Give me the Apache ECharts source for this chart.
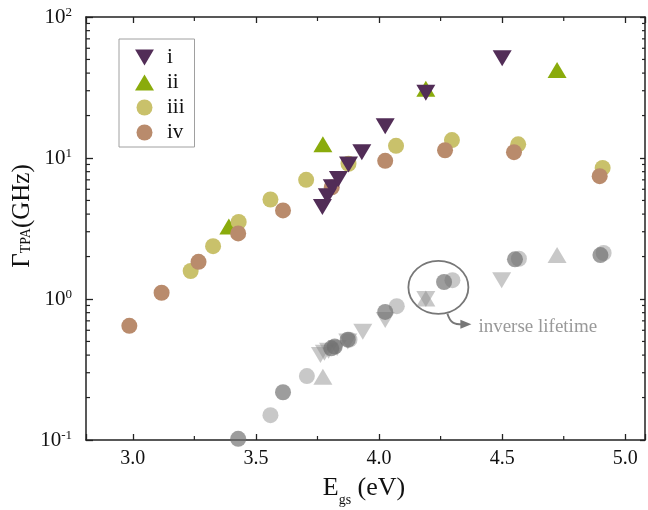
<!DOCTYPE html>
<html>
<head>
<meta charset="utf-8">
<script src="https://cdn.jsdelivr.net/npm/echarts@6/dist/echarts.min.js"></script>
<style>
html,body{margin:0;padding:0;background:#fff;}
#chart{width:648px;height:510px;}
</style>
</head>
<body>
<div id="chart"></div>
<script>
// ---------- data ----------
const seriesNames = ['i', 'ii', 'iii', 'iv'];
// Gamma_TPA (GHz) vs E_gs (eV)
const dataI   = [[3.77,4.5],[3.79,5.35],[3.81,6.2],[3.835,7.1],[3.876,9.0],[3.93,11.0],[4.025,16.8],[4.19,29],[4.5,51]];
const dataII  = [[3.39,3.27],[3.772,12.5],[4.19,31],[4.723,42]];
const dataIII = [[3.235,1.58],[3.326,2.37],[3.43,3.52],[3.559,5.08],[3.704,7.0],[3.876,9.1],[4.069,12.2],[4.296,13.4],[4.565,12.5],[4.908,8.5]];
const dataIV  = [[2.986,0.645],[3.117,1.107],[3.267,1.835],[3.428,2.92],[3.61,4.25],[3.808,6.2],[4.025,9.55],[4.268,11.35],[4.548,11.0],[4.896,7.43]];
// inverse lifetime (grey)
const lifeI   = [[3.762,0.40],[3.778,0.415],[3.795,0.43],[3.83,0.45],[3.873,0.50],[3.934,0.585],[4.025,0.71],[4.19,1.0],[4.498,1.36]];
const lifeII  = [[3.772,0.281],[4.19,1.01],[4.723,2.05]];
const lifeIII = [[3.559,0.150],[3.707,0.284],[3.88,0.515],[4.072,0.89],[4.298,1.36],[4.568,1.93],[4.912,2.12]];
const lifeIV  = [[3.428,0.102],[3.61,0.218],[3.806,0.447],[3.82,0.46],[3.873,0.515],[4.025,0.81],[4.264,1.32],[4.552,1.91],[4.899,2.05]];

const xMin = 2.81, xMax = 5.08, yMin = 0.1, yMax = 100;
const xMinorTicks = [3.25, 3.75, 4.25, 4.75];
const yMinorTicks = [];
[0.1, 1, 10].forEach(d => { for (let m = 2; m <= 9; m++) yMinorTicks.push(+(m * d).toPrecision(3)); });
const annotationText = 'inverse lifetime';
const annotationCenter = [4.241, 1.21];

// ---------- styles ----------
const serif = 'Liberation Serif';
const cI = '#522d57', cII = '#8aab0c', cIII = '#c9c16b', cIV = '#b98b6c';
const gLight = 'rgba(140,140,140,0.48)', gDark = 'rgba(110,110,110,0.68)';
const downTri = 'path://M0,0L20,0L10,17Z';
const axisColor = '#222';

const chart = echarts.init(document.getElementById('chart'), null, {renderer: 'canvas'});

function scatter(name, data, color, symbol, size, z) {
  return {
    name: name, type: 'scatter', data: data, symbol: symbol, symbolSize: size,
    itemStyle: {color: color, opacity: 1}, z: z, silent: true,
    emphasis: {disabled: true}
  };
}

const xAxisBase = {
  type: 'value', min: xMin, max: xMax, splitNumber: 5,
  axisLine: {show: true, lineStyle: {color: axisColor, width: 1.5}},
  splitLine: {show: false}
};
const yAxisBase = {
  type: 'log', logBase: 10, min: yMin, max: yMax,
  axisLine: {show: true, lineStyle: {color: axisColor, width: 1.5}},
  splitLine: {show: false}
};

const option = {
  animation: false,
  backgroundColor: '#fff',
  grid: {left: 86, top: 17, width: 563, height: 423, containLabel: false},
  xAxis: [
    Object.assign({}, xAxisBase, {
      position: 'bottom',
      axisTick: {show: true, inside: true, length: 6, lineStyle: {color: axisColor, width: 1.3}},
      axisLabel: {
        margin: 9, color: '#111', fontFamily: serif, fontSize: 20,
        formatter: v => (Math.abs(v * 2 - Math.round(v * 2)) < 1e-6 ? v.toFixed(1) : '')
      }
    }),
    Object.assign({}, xAxisBase, {
      position: 'top',
      axisTick: {show: true, inside: true, length: 6, lineStyle: {color: axisColor, width: 1.3}},
      axisLabel: {show: false}
    })
  ],
  yAxis: [
    Object.assign({}, yAxisBase, {
      position: 'left',
      axisTick: {show: true, inside: true, length: 7, lineStyle: {color: axisColor, width: 1.3}},
      axisLabel: {
        margin: 14, color: '#111', fontFamily: serif,
        formatter: v => '{a|10}{b|' + Math.round(Math.log10(v)) + '}',
        rich: {
          a: {fontFamily: serif, fontSize: 21, color: '#111'},
          b: {fontFamily: serif, fontSize: 13, color: '#111', padding: [0, 0, 9, 0]}
        }
      }
    }),
    Object.assign({}, yAxisBase, {
      position: 'right',
      axisTick: {show: true, inside: true, length: 5, lineStyle: {color: axisColor, width: 1.3}},
      axisLabel: {show: false}
    })
  ],
  legend: {
    data: seriesNames, orient: 'vertical', left: 119, top: 39,
    padding: [8, 10, 4, 16], itemGap: 4, itemWidth: 19, itemHeight: 16,
    borderColor: '#a0a0a0', borderWidth: 1, borderRadius: 0,
    selectedMode: false,
    textStyle: {fontFamily: serif, fontSize: 21, color: '#111', padding: [0, 0, 0, 8], lineHeight: 20}
  },
  series: [
    scatter('life-ii', lifeII, gLight, 'triangle', [19, 16], 2),
    scatter('life-iii', lifeIII, gLight, 'circle', 16, 2),
    scatter('life-i', lifeI, gLight, downTri, [19, 16], 2),
    scatter('life-iv', lifeIV, gDark, 'circle', 16, 3),
    scatter('ii', dataII, cII, 'triangle', [19, 16], 4),
    scatter('iii', dataIII, cIII, 'circle', 16, 5),
    scatter('iv', dataIV, cIV, 'circle', 16, 6),
    scatter('i', dataI, cI, downTri, [19, 16], 7),
    {
      name: 'yminor', type: 'custom', silent: true, clip: false, z: 10,
      data: yMinorTicks.map(v => [xMin, v]),
      renderItem: function (params, api) {
        const v = api.value(1);
        const pl = api.coord([xMin, v]);
        const pr = api.coord([xMax, v]);
        const st = {stroke: axisColor, lineWidth: 1.2};
        return {type: 'group', children: [
          {type: 'line', shape: {x1: pl[0], y1: pl[1], x2: pl[0] + 4, y2: pl[1]}, style: st},
          {type: 'line', shape: {x1: pr[0], y1: pr[1], x2: pr[0] - 3, y2: pr[1]}, style: st}
        ]};
      }
    },
    {
      name: 'xminor', type: 'custom', silent: true, clip: false, z: 10,
      data: xMinorTicks.map(v => [v, yMin]),
      renderItem: function (params, api) {
        const v = api.value(0);
        const pb = api.coord([v, yMin]);
        const pt = api.coord([v, yMax]);
        const st = {stroke: axisColor, lineWidth: 1.2};
        return {type: 'group', children: [
          {type: 'line', shape: {x1: pb[0], y1: pb[1], x2: pb[0], y2: pb[1] - 4}, style: st},
          {type: 'line', shape: {x1: pt[0], y1: pt[1], x2: pt[0], y2: pt[1] + 4}, style: st}
        ]};
      }
    }
  ]
};
chart.setOption(option);

// annotation and axis titles
const c = chart.convertToPixel({gridIndex: 0}, annotationCenter);
const grey = '#777';
chart.setOption({
  graphic: [
    {
      type: 'text', x: 22, y: 216, rotation: Math.PI / 2,
      style: {
        text: '{g|Γ}{s|TPA}{g|(GHz)}', align: 'center', verticalAlign: 'middle',
        rich: {
          g: {fontFamily: serif, fontSize: 25, fill: '#111'},
          s: {fontFamily: serif, fontSize: 14, fill: '#111', padding: [8, 0, 0, 0]}
        }
      }
    },
    {
      type: 'text', x: 364, y: 488,
      style: {
        text: '{g|E}{s|gs}{g| (eV)}', align: 'center', verticalAlign: 'middle',
        rich: {
          g: {fontFamily: serif, fontSize: 26, fill: '#111'},
          s: {fontFamily: serif, fontSize: 14, fill: '#111', padding: [24, 0, 0, 0]}
        }
      }
    },
    {
      type: 'ellipse', shape: {cx: c[0], cy: c[1], rx: 30, ry: 26.5},
      style: {fill: 'none', stroke: grey, lineWidth: 1.8}, z: 20
    },
    {
      type: 'bezierCurve',
      shape: {x1: c[0] + 9, y1: c[1] + 26.3, cpx1: c[0] + 12, cpy1: c[1] + 36, cpx2: c[0] + 16, cpy2: c[1] + 37, x2: c[0] + 24, y2: c[1] + 37},
      style: {fill: 'none', stroke: grey, lineWidth: 1.8}, z: 20
    },
    {
      type: 'polygon',
      shape: {points: [[c[0] + 22, c[1] + 32.5], [c[0] + 33, c[1] + 37], [c[0] + 22, c[1] + 41.5]]},
      style: {fill: grey}, z: 20
    },
    {
      type: 'text', x: c[0] + 40, y: c[1] + 40,
      style: {text: annotationText, fontFamily: serif, fontSize: 19, fill: '#999', align: 'left', verticalAlign: 'middle'},
      z: 20
    }
  ]
});
</script>
</body>
</html>
